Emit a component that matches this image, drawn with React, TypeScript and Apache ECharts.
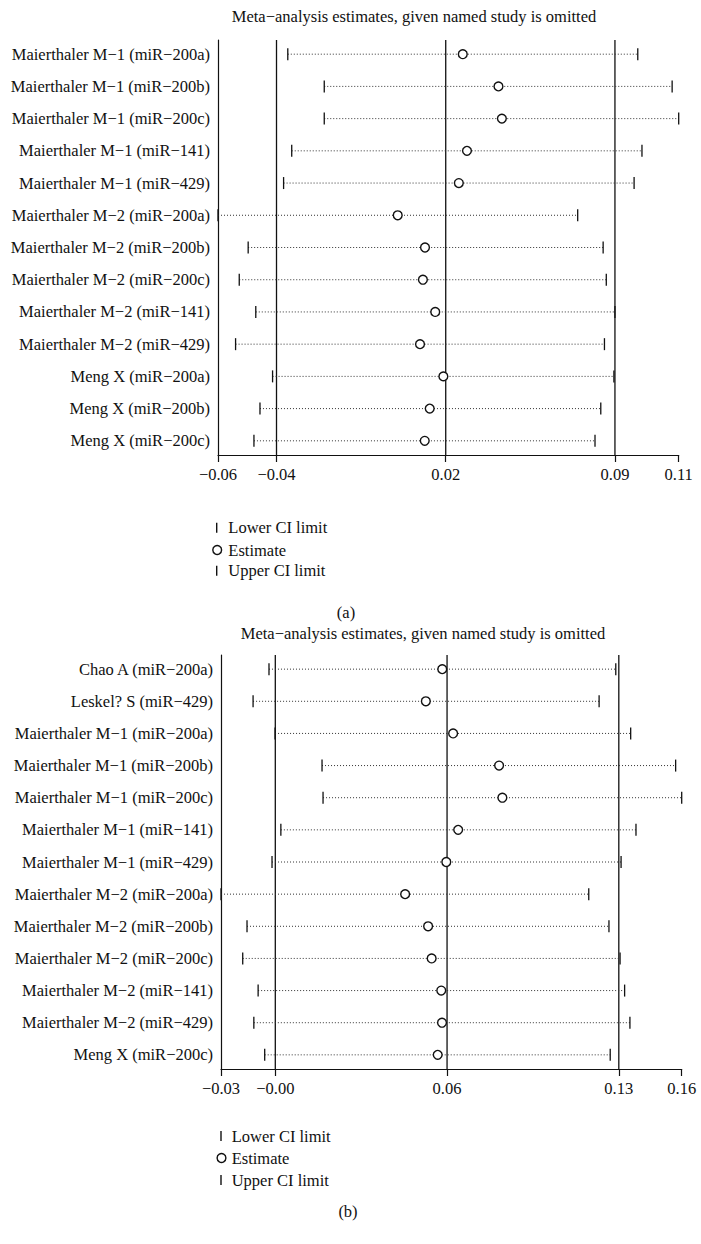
import React, { useEffect, useRef } from "react";
import * as echarts from "echarts";

// ---------- Panel (a) ----------
const studiesA = [
  "Maierthaler M−1 (miR−200a)",
  "Maierthaler M−1 (miR−200b)",
  "Maierthaler M−1 (miR−200c)",
  "Maierthaler M−1 (miR−141)",
  "Maierthaler M−1 (miR−429)",
  "Maierthaler M−2 (miR−200a)",
  "Maierthaler M−2 (miR−200b)",
  "Maierthaler M−2 (miR−200c)",
  "Maierthaler M−2 (miR−141)",
  "Maierthaler M−2 (miR−429)",
  "Meng X (miR−200a)",
  "Meng X (miR−200b)",
  "Meng X (miR−200c)",
];
const lowerA = [-0.0377, -0.0238, -0.0238, -0.0362, -0.0393, -0.0643, -0.0528, -0.0562, -0.0499, -0.0576, -0.0435, -0.0483, -0.0506];
const estimateA = [0.029, 0.0426, 0.0439, 0.0306, 0.0275, 0.0042, 0.0146, 0.0138, 0.0185, 0.0127, 0.0216, 0.0164, 0.0145];
const upperA = [0.0957, 0.1088, 0.1113, 0.0973, 0.0943, 0.0728, 0.0825, 0.0837, 0.087, 0.083, 0.0866, 0.0816, 0.0794];
const tickValuesA = [-0.0643, -0.042, 0.0225, 0.087, 0.1113];
const tickLabelsA = ["−0.06", "−0.04", "0.02", "0.09", "0.11"];
const refLinesA = [-0.042, 0.0225, 0.087];

// ---------- Panel (b) ----------
const studiesB = [
  "Chao A (miR−200a)",
  "Leskel? S (miR−429)",
  "Maierthaler M−1 (miR−200a)",
  "Maierthaler M−1 (miR−200b)",
  "Maierthaler M−1 (miR−200c)",
  "Maierthaler M−1 (miR−141)",
  "Maierthaler M−1 (miR−429)",
  "Maierthaler M−2 (miR−200a)",
  "Maierthaler M−2 (miR−200b)",
  "Maierthaler M−2 (miR−200c)",
  "Maierthaler M−2 (miR−141)",
  "Maierthaler M−2 (miR−429)",
  "Meng X (miR−200c)",
];
const lowerB = [-0.007, -0.0133, -0.0046, 0.014, 0.0144, -0.0023, -0.0058, -0.026, -0.0157, -0.0174, -0.0113, -0.013, -0.0087];
const estimateB = [0.0616, 0.0551, 0.0659, 0.0841, 0.0854, 0.0679, 0.0632, 0.0469, 0.056, 0.0574, 0.0612, 0.0615, 0.0598];
const upperB = [0.1303, 0.1237, 0.1362, 0.154, 0.1564, 0.1383, 0.1324, 0.1196, 0.1276, 0.132, 0.1338, 0.1359, 0.1281];
const tickValuesB = [-0.026, -0.0045, 0.0635, 0.1315, 0.1564];
const tickLabelsB = ["−0.03", "−0.00", "0.06", "0.13", "0.16"];
const refLinesB = [-0.0045, 0.0635, 0.1315];

const titleText = "Meta−analysis estimates, given named study is omitted";
const legendLabels = ["Lower CI limit", "Estimate", "Upper CI limit"];

const FONT = "Liberation Serif";
const FS = 16.5;
const INK = "#111";
const Y_MIN = -0.44;
const Y_MAX = 12.44;

function nearestLabel(v: number, values: number[], labels: string[]) {
  let best = 0;
  let bd = Infinity;
  values.forEach((t, i) => {
    const d = Math.abs(t - v);
    if (d < bd) {
      bd = d;
      best = i;
    }
  });
  return labels[best];
}

const renderInterval = (params: any, api: any) => {
  const y = api.value(3);
  const l = api.coord([api.value(0), y]);
  const e = api.coord([api.value(1), y]);
  const u = api.coord([api.value(2), y]);
  return {
    type: "group",
    children: [
      {
        type: "line",
        shape: { x1: l[0], y1: l[1], x2: u[0], y2: u[1] },
        style: { stroke: "#333", lineWidth: 1, lineDash: [1, 2] },
      },
      {
        type: "line",
        shape: { x1: l[0], y1: l[1] - 6, x2: l[0], y2: l[1] + 6 },
        style: { stroke: INK, lineWidth: 1.3 },
      },
      {
        type: "line",
        shape: { x1: u[0], y1: u[1] - 6, x2: u[0], y2: u[1] + 6 },
        style: { stroke: INK, lineWidth: 1.3 },
      },
      {
        type: "circle",
        shape: { cx: e[0], cy: e[1], r: 4.4 },
        style: { fill: "#fff", stroke: INK, lineWidth: 1.4 },
      },
    ],
  };
};

function makeAxes(
  gridIndex: number,
  studies: string[],
  tickValues: number[],
  tickLabels: string[]
) {
  const idx = studies.map((_, i) => i);
  const xAxis = {
    type: "value",
    gridIndex,
    min: tickValues[0],
    max: tickValues[tickValues.length - 1],
    splitLine: { show: false },
    axisLine: { show: true, onZero: false, lineStyle: { color: INK, width: 1.2 } },
    axisTick: {
      show: true,
      customValues: tickValues,
      length: 7,
      lineStyle: { color: INK, width: 1.2 },
    },
    axisLabel: {
      customValues: tickValues,
      margin: 11,
      color: INK,
      fontFamily: FONT,
      fontSize: FS,
      formatter: (v: number) => nearestLabel(v, tickValues, tickLabels),
    },
  };
  const yAxis = {
    type: "value",
    gridIndex,
    inverse: true,
    min: Y_MIN,
    max: Y_MAX,
    splitLine: { show: false },
    axisLine: { show: true, onZero: false, lineStyle: { color: INK, width: 1.2 } },
    axisTick: { show: false },
    axisLabel: {
      customValues: idx,
      margin: 8,
      color: INK,
      fontFamily: FONT,
      fontSize: FS,
      formatter: (v: number) => studies[Math.round(v)] ?? "",
    },
  };
  return { xAxis, yAxis };
}

function refLineSeries(vals: number[], axisIndex: number) {
  return vals.map((v) => ({
    type: "line",
    xAxisIndex: axisIndex,
    yAxisIndex: axisIndex,
    symbol: "none",
    silent: true,
    z: 1,
    lineStyle: { color: INK, width: 1.3 },
    data: [
      [v, Y_MIN],
      [v, Y_MAX],
    ],
  }));
}

function txt(x: number, y: number, text: string, align: string) {
  return {
    type: "text",
    x,
    y,
    style: {
      text,
      fill: INK,
      fontFamily: FONT,
      fontSize: FS,
      textAlign: align,
      textVerticalAlign: "middle",
    },
  };
}

function legendGraphics(x0: number, ys: number[], textX: number) {
  return [
    { type: "line", shape: { x1: x0, y1: ys[0] - 5, x2: x0, y2: ys[0] + 5 }, style: { stroke: INK, lineWidth: 1.4 } },
    { type: "circle", shape: { cx: x0 + 0.5, cy: ys[1], r: 4.4 }, style: { fill: "#fff", stroke: INK, lineWidth: 1.4 } },
    { type: "line", shape: { x1: x0, y1: ys[2] - 5, x2: x0, y2: ys[2] + 5 }, style: { stroke: INK, lineWidth: 1.4 } },
    ...legendLabels.map((t, i) => txt(textX, ys[i], t, "left")),
  ];
}

export default function App() {
  const ref = useRef<HTMLDivElement>(null);
  useEffect(() => {
    document.body.style.margin = "0";
    if (!ref.current) return;
    const chart = echarts.init(ref.current, undefined, { renderer: "svg" });
    const a = makeAxes(0, studiesA, tickValuesA, tickLabelsA);
    const b = makeAxes(1, studiesB, tickValuesB, tickLabelsB);
    const dataA = lowerA.map((l, i) => [l, estimateA[i], upperA[i], i]);
    const dataB = lowerB.map((l, i) => [l, estimateB[i], upperB[i], i]);
    chart.setOption({
      animation: false,
      backgroundColor: "#fff",
      textStyle: { fontFamily: FONT },
      grid: [
        { left: 218, right: 22.3, top: 40, height: 415 },
        { left: 221, right: 19.3, top: 655, height: 414 },
      ],
      xAxis: [a.xAxis, b.xAxis],
      yAxis: [a.yAxis, b.yAxis],
      series: [
        ...refLineSeries(refLinesA, 0),
        ...refLineSeries(refLinesB, 1),
        {
          type: "custom",
          name: "Panel a",
          xAxisIndex: 0,
          yAxisIndex: 0,
          z: 3,
          renderItem: renderInterval,
          encode: { x: [0, 1, 2], y: 3 },
          data: dataA,
          clip: false,
        },
        {
          type: "custom",
          name: "Panel b",
          xAxisIndex: 1,
          yAxisIndex: 1,
          z: 3,
          renderItem: renderInterval,
          encode: { x: [0, 1, 2], y: 3 },
          data: dataB,
          clip: false,
        },
      ],
      graphic: [
        txt(414, 16, titleText, "center"),
        txt(423, 633, titleText, "center"),
        txt(346, 612, "(a)", "center"),
        txt(348, 1211, "(b)", "center"),
        ...legendGraphics(216.7, [527.7, 550, 570.7], 228.3),
        ...legendGraphics(221, [1136, 1158, 1180], 231.7),
      ],
    });
    return () => chart.dispose();
  }, []);
  return <div ref={ref} style={{ width: 701, height: 1244 }} />;
}
